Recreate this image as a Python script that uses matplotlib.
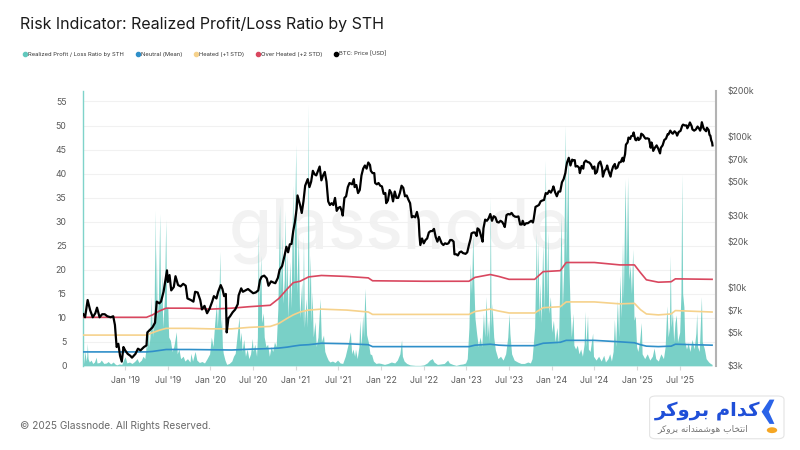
import matplotlib
matplotlib.use("Agg")
import matplotlib.pyplot as plt
from matplotlib.lines import Line2D
from matplotlib.patches import FancyBboxPatch, Polygon, Circle
import numpy as np

plt.rcParams['font.family'] = ['Inter', 'DejaVu Sans']

# --- data (x = decimal year) ---
btc_t = [2018.51, 2018.53, 2018.56, 2018.59, 2018.62, 2018.65, 2018.67, 2018.70, 2018.73, 2018.76,
         2018.79, 2018.83, 2018.86, 2018.88, 2018.90, 2018.92, 2018.94, 2018.96, 2018.98, 2019.00,
         2019.03, 2019.06, 2019.08, 2019.12, 2019.15, 2019.18, 2019.22, 2019.25, 2019.26, 2019.29,
         2019.32, 2019.35, 2019.37, 2019.40, 2019.42, 2019.45, 2019.47, 2019.49, 2019.50, 2019.52,
         2019.54, 2019.57, 2019.59, 2019.62, 2019.65, 2019.68, 2019.71, 2019.73, 2019.77, 2019.80,
         2019.82, 2019.85, 2019.88, 2019.90, 2019.93, 2019.96, 2019.99, 2020.02, 2020.04, 2020.07,
         2020.09, 2020.12, 2020.14, 2020.16, 2020.18, 2020.19, 2020.21, 2020.23, 2020.26, 2020.29,
         2020.32, 2020.33, 2020.36, 2020.38, 2020.41, 2020.44, 2020.47, 2020.50, 2020.53, 2020.56,
         2020.58, 2020.60, 2020.63, 2020.66, 2020.68, 2020.71, 2020.74, 2020.76, 2020.79, 2020.81,
         2020.84, 2020.87, 2020.89, 2020.91, 2020.93, 2020.95, 2020.97, 2020.99, 2021.01, 2021.02,
         2021.05, 2021.07, 2021.09, 2021.11, 2021.14, 2021.16, 2021.18, 2021.20, 2021.22, 2021.24,
         2021.26, 2021.28, 2021.30, 2021.32, 2021.34, 2021.36, 2021.38, 2021.40, 2021.42, 2021.44,
         2021.46, 2021.48, 2021.50, 2021.52, 2021.54, 2021.55, 2021.57, 2021.59, 2021.61, 2021.63,
         2021.66, 2021.68, 2021.69, 2021.71, 2021.73, 2021.75, 2021.77, 2021.79, 2021.81, 2021.83,
         2021.85, 2021.87, 2021.88, 2021.90, 2021.92, 2021.93, 2021.95, 2021.97, 2021.99, 2022.01,
         2022.03, 2022.05, 2022.06, 2022.08, 2022.10, 2022.12, 2022.14, 2022.16, 2022.18, 2022.20,
         2022.22, 2022.24, 2022.26, 2022.28, 2022.30, 2022.32, 2022.34, 2022.36, 2022.38, 2022.40,
         2022.42, 2022.44, 2022.45, 2022.46, 2022.48, 2022.50, 2022.52, 2022.54, 2022.56, 2022.58,
         2022.60, 2022.62, 2022.64, 2022.66, 2022.68, 2022.70, 2022.71, 2022.73, 2022.75, 2022.77,
         2022.79, 2022.81, 2022.83, 2022.85, 2022.86, 2022.88, 2022.90, 2022.92, 2022.94, 2022.96,
         2022.99, 2023.01, 2023.03, 2023.05, 2023.06, 2023.08, 2023.10, 2023.12, 2023.13, 2023.15,
         2023.17, 2023.19, 2023.20, 2023.22, 2023.24, 2023.26, 2023.28, 2023.30, 2023.32, 2023.34,
         2023.36, 2023.38, 2023.40, 2023.42, 2023.44, 2023.45, 2023.47, 2023.49, 2023.51, 2023.53,
         2023.55, 2023.57, 2023.59, 2023.61, 2023.63, 2023.65, 2023.66, 2023.68, 2023.70, 2023.72,
         2023.74, 2023.76, 2023.78, 2023.79, 2023.81, 2023.83, 2023.85, 2023.87, 2023.89, 2023.91,
         2023.93, 2023.95, 2023.97, 2023.99, 2024.01, 2024.02, 2024.04, 2024.06, 2024.08, 2024.10,
         2024.12, 2024.14, 2024.16, 2024.17, 2024.18, 2024.20, 2024.21, 2024.22, 2024.24, 2024.25,
         2024.27, 2024.28, 2024.30, 2024.32, 2024.33, 2024.35, 2024.37, 2024.38, 2024.40, 2024.42,
         2024.44, 2024.46, 2024.48, 2024.50, 2024.51, 2024.53, 2024.55, 2024.57, 2024.59, 2024.60,
         2024.62, 2024.64, 2024.65, 2024.67, 2024.69, 2024.70, 2024.72, 2024.74, 2024.75, 2024.77,
         2024.79, 2024.81, 2024.83, 2024.84, 2024.86, 2024.87, 2024.89, 2024.90, 2024.92, 2024.93,
         2024.95, 2024.96, 2024.98, 2024.99, 2025.01, 2025.02, 2025.04, 2025.05, 2025.07, 2025.09,
         2025.10, 2025.12, 2025.14, 2025.16, 2025.17, 2025.18, 2025.19, 2025.21, 2025.23, 2025.25,
         2025.27, 2025.28, 2025.30, 2025.32, 2025.34, 2025.36, 2025.37, 2025.39, 2025.41, 2025.42,
         2025.44, 2025.46, 2025.47, 2025.49, 2025.51, 2025.53, 2025.54, 2025.56, 2025.58, 2025.59,
         2025.61, 2025.62, 2025.64, 2025.65, 2025.67, 2025.69, 2025.71, 2025.73, 2025.74, 2025.75,
         2025.76, 2025.78, 2025.79, 2025.81, 2025.82, 2025.84, 2025.85, 2025.86, 2025.87, 2025.88,
         2025.885]
btc_k = [6.6, 6.3, 8.2, 7.0, 6.3, 6.7, 7.3, 6.3, 6.6, 6.6,
         6.4, 6.3, 6.4, 5.6, 4.0, 4.2, 3.5, 3.2, 4.0, 3.8,
         3.6, 3.5, 3.4, 3.6, 3.9, 3.8, 4.0, 4.1, 5.0, 5.2,
         5.4, 5.8, 8.0, 7.8, 8.0, 9.3, 11.0, 12.9, 10.8, 12.0,
         9.5, 10.0, 11.8, 10.3, 10.1, 10.5, 10.2, 8.4, 8.2, 8.0,
         9.3, 9.2, 8.2, 7.1, 7.5, 6.7, 7.2, 8.0, 8.7, 8.4,
         9.3, 10.3, 9.7, 8.7, 9.0, 5.0, 6.2, 6.4, 6.8, 7.1,
         7.7, 8.8, 9.8, 9.3, 9.5, 9.7, 9.4, 9.1, 9.2, 9.5,
         11.1, 11.7, 11.9, 11.4, 10.2, 10.9, 10.7, 10.6, 11.5, 13.0,
         13.8, 16.3, 18.5, 17.0, 19.2, 19.3, 23.5, 27.0, 33.0, 40.5,
         35.0, 31.0, 37.0, 47.0, 52.0, 46.0, 50.0, 59.0, 56.0, 55.0,
         58.8, 63.0, 51.0, 55.0, 58.0, 50.0, 37.0, 35.0, 36.0, 35.0,
         39.0, 32.0, 33.5, 34.0, 31.8, 29.8, 39.0, 40.0, 46.0, 49.0,
         48.0, 52.0, 46.0, 47.5, 42.0, 44.0, 55.0, 61.0, 64.0, 61.0,
         67.0, 64.5, 59.0, 57.0, 57.0, 49.0, 48.0, 49.0, 47.0, 46.5,
         41.5, 42.0, 36.0, 37.5, 44.0, 42.0, 37.0, 43.0, 39.0, 39.0,
         42.0, 47.0, 45.5, 40.0, 40.5, 38.0, 36.0, 29.0, 29.5, 29.0,
         31.5, 28.0, 22.0, 19.0, 21.0, 19.5, 20.5, 21.0, 23.0, 23.5,
         23.5, 24.3, 21.5, 20.0, 21.5, 20.2, 19.5, 19.0, 19.5, 19.3,
         19.5, 20.5, 20.5, 20.0, 16.5, 16.5, 16.2, 17.0, 17.2, 16.8,
         16.6, 17.0, 19.0, 21.0, 22.7, 23.0, 23.0, 21.8, 24.5, 24.0,
         22.0, 20.0, 24.5, 28.0, 27.5, 28.5, 30.5, 27.5, 29.5, 29.0,
         27.0, 26.8, 27.5, 27.0, 25.8, 25.0, 30.0, 30.5, 30.3, 31.0,
         29.8, 29.3, 29.2, 29.4, 26.0, 26.0, 27.5, 25.8, 26.5, 26.5,
         27.0, 27.5, 26.8, 28.5, 34.0, 34.5, 35.0, 37.0, 37.5, 37.8,
         42.0, 41.5, 43.5, 42.3, 44.5, 46.5, 42.5, 40.0, 43.0, 43.0,
         49.5, 52.0, 57.0, 62.5, 67.0, 72.0, 68.0, 64.0, 70.0, 69.0,
         69.5, 63.0, 63.5, 62.0, 57.0, 63.5, 61.0, 67.0, 69.0, 67.5,
         67.0, 65.0, 61.0, 63.0, 56.5, 58.0, 66.0, 68.0, 62.0, 54.0,
         59.0, 61.0, 64.0, 58.0, 54.0, 58.0, 63.0, 65.5, 61.0, 62.0,
         67.0, 67.5, 72.0, 68.0, 76.0, 88.0, 91.0, 98.0, 96.0, 100.0,
         101.0, 106.0, 95.0, 94.0, 98.0, 94.5, 97.0, 104.0, 102.0, 98.0,
         96.5, 97.0, 96.0, 84.0, 91.0, 87.0, 80.0, 84.0, 87.0, 82.5,
         77.0, 84.0, 87.0, 94.5, 96.5, 103.5, 103.0, 109.0, 105.0, 104.0,
         108.0, 105.0, 101.0, 107.0, 108.5, 117.5, 119.5, 118.0, 118.0, 113.0,
         119.0, 123.5, 117.0, 111.0, 109.0, 111.0, 116.0, 112.0, 109.0, 114.0,
         124.0, 113.0, 111.0, 108.0, 114.0, 110.0, 102.0, 101.0, 94.0, 91.0,
         87.0]

sth_t = [2018.51, 2018.52, 2018.53, 2018.54, 2018.55, 2018.556, 2018.565, 2018.58, 2018.60, 2018.62,
         2018.64, 2018.66, 2018.67, 2018.70, 2018.72, 2018.75, 2018.78, 2018.80, 2018.83, 2018.86,
         2018.88, 2018.90, 2018.93, 2018.96, 2018.98, 2019.00, 2019.02, 2019.05, 2019.08, 2019.11,
         2019.14, 2019.16, 2019.19, 2019.21, 2019.23, 2019.24, 2019.25, 2019.26, 2019.27, 2019.28,
         2019.29, 2019.30, 2019.31, 2019.32, 2019.33, 2019.34, 2019.35, 2019.357, 2019.365, 2019.375,
         2019.39, 2019.405, 2019.415, 2019.43, 2019.44, 2019.46, 2019.476, 2019.485, 2019.50, 2019.51,
         2019.53, 2019.55, 2019.57, 2019.60, 2019.61, 2019.63, 2019.65, 2019.68, 2019.70, 2019.73,
         2019.76, 2019.77, 2019.79, 2019.82, 2019.84, 2019.87, 2019.90, 2019.93, 2019.96, 2019.99,
         2020.01, 2020.03, 2020.05, 2020.07, 2020.08, 2020.10, 2020.11, 2020.12, 2020.13, 2020.14,
         2020.15, 2020.17, 2020.19, 2020.22, 2020.25, 2020.27, 2020.29, 2020.31, 2020.335, 2020.345,
         2020.36, 2020.37, 2020.39, 2020.41, 2020.43, 2020.45, 2020.47, 2020.49, 2020.50, 2020.52,
         2020.54, 2020.55, 2020.56, 2020.57, 2020.59, 2020.60, 2020.62, 2020.63, 2020.65, 2020.67,
         2020.69, 2020.71, 2020.73, 2020.75, 2020.77, 2020.79, 2020.81, 2020.82, 2020.835, 2020.85,
         2020.865, 2020.875, 2020.885, 2020.895, 2020.91, 2020.93, 2020.945, 2020.965, 2020.975, 2021.00,
         2021.01, 2021.03, 2021.045, 2021.07, 2021.08, 2021.09, 2021.10, 2021.12, 2021.135, 2021.145,
         2021.155, 2021.17, 2021.18, 2021.19, 2021.205, 2021.225, 2021.24, 2021.26, 2021.285, 2021.30,
         2021.325, 2021.34, 2021.36, 2021.38, 2021.40, 2021.43, 2021.46, 2021.49, 2021.52, 2021.55,
         2021.58, 2021.60, 2021.62, 2021.64, 2021.655, 2021.67, 2021.69, 2021.70, 2021.72, 2021.74,
         2021.75, 2021.765, 2021.785, 2021.795, 2021.81, 2021.83, 2021.85, 2021.87, 2021.89, 2021.91,
         2021.94, 2021.97, 2022.00, 2022.04, 2022.08, 2022.12, 2022.16, 2022.19, 2022.22, 2022.24,
         2022.25, 2022.27, 2022.30, 2022.34, 2022.40, 2022.46, 2022.50, 2022.54, 2022.57, 2022.60,
         2022.62, 2022.66, 2022.70, 2022.74, 2022.78, 2022.80, 2022.84, 2022.88, 2022.92, 2022.96,
         2022.99, 2023.01, 2023.03, 2023.045, 2023.06, 2023.075, 2023.085, 2023.10, 2023.12, 2023.14,
         2023.16, 2023.18, 2023.20, 2023.215, 2023.23, 2023.245, 2023.26, 2023.27, 2023.28, 2023.29,
         2023.30, 2023.32, 2023.34, 2023.37, 2023.40, 2023.43, 2023.46, 2023.485, 2023.50, 2023.51,
         2023.53, 2023.56, 2023.60, 2023.64, 2023.68, 2023.72, 2023.75, 2023.77, 2023.80, 2023.82,
         2023.83, 2023.84, 2023.85, 2023.86, 2023.875, 2023.895, 2023.91, 2023.925, 2023.94, 2023.955,
         2023.965, 2023.985, 2024.00, 2024.02, 2024.04, 2024.06, 2024.08, 2024.095, 2024.11, 2024.125,
         2024.14, 2024.16, 2024.17, 2024.19, 2024.20, 2024.215, 2024.23, 2024.25, 2024.26, 2024.28,
         2024.30, 2024.32, 2024.34, 2024.36, 2024.38, 2024.39, 2024.40, 2024.42, 2024.43, 2024.45,
         2024.48, 2024.49, 2024.52, 2024.55, 2024.58, 2024.61, 2024.63, 2024.66, 2024.68, 2024.70,
         2024.72, 2024.735, 2024.75, 2024.77, 2024.785, 2024.80, 2024.815, 2024.83, 2024.84, 2024.86,
         2024.875, 2024.89, 2024.905, 2024.92, 2024.935, 2024.95, 2024.965, 2024.98, 2024.995, 2025.01,
         2025.03, 2025.05, 2025.06, 2025.09, 2025.12, 2025.15, 2025.18, 2025.20, 2025.22, 2025.25,
         2025.28, 2025.31, 2025.33, 2025.35, 2025.365, 2025.38, 2025.39, 2025.40, 2025.415, 2025.43,
         2025.445, 2025.46, 2025.475, 2025.50, 2025.515, 2025.525, 2025.535, 2025.55, 2025.56, 2025.58,
         2025.60, 2025.62, 2025.645, 2025.67, 2025.69, 2025.70, 2025.71, 2025.73, 2025.755, 2025.765,
         2025.79, 2025.81, 2025.84, 2025.86, 2025.88]
sth_ratio = [0.3, 1.5, 3.2, 1.0, 2.0, 4.7, 1.5, 0.8, 1.2, 0.5,
             0.8, 1.8, 0.6, 0.7, 1.2, 0.5, 0.6, 0.9, 0.4, 0.8,
             0.4, 0.2, 0.4, 0.3, 1.2, 1.9, 0.6, 0.8, 0.5, 0.9,
             1.5, 0.7, 1.2, 2.0, 1.5, 3.0, 5.5, 3.5, 8.1, 4.0,
             6.0, 14.4, 7.0, 11.0, 6.0, 12.0, 32.4, 12.0, 24.8, 10.0,
             14.0, 31.7, 12.0, 19.2, 8.0, 14.0, 30.5, 12.0, 12.3, 6.0,
             5.3, 3.0, 4.0, 7.1, 2.5, 3.5, 1.5, 2.0, 1.0, 1.5,
             0.8, 2.6, 1.0, 3.0, 1.2, 0.7, 0.9, 0.6, 1.5, 2.5,
             6.0, 4.0, 9.0, 13.0, 8.0, 15.0, 23.8, 8.0, 10.0, 4.0,
             2.6, 1.2, 0.3, 0.5, 1.0, 2.0, 2.6, 6.0, 10.2, 5.0,
             7.0, 3.0, 5.5, 2.0, 3.5, 1.5, 2.5, 5.7, 3.0, 4.5,
             2.0, 6.0, 28.3, 12.0, 23.0, 9.0, 11.0, 6.0, 4.0, 4.5,
             2.0, 4.0, 3.0, 5.0, 4.0, 12.0, 33.5, 15.0, 27.0, 13.0,
             18.0, 32.4, 14.0, 23.8, 10.0, 21.7, 12.0, 37.6, 16.0, 46.0,
             15.0, 27.0, 10.0, 17.5, 9.0, 27.0, 8.0, 14.0, 8.0, 54.5,
             12.0, 23.0, 9.0, 15.4, 6.0, 9.2, 4.0, 6.0, 14.0, 5.0,
             6.4, 3.0, 2.0, 1.2, 0.8, 1.0, 0.7, 1.2, 0.6, 0.5,
             2.0, 3.5, 5.0, 7.1, 2.5, 3.5, 2.0, 3.5, 1.5, 4.0,
             9.5, 4.0, 10.6, 6.0, 16.1, 6.5, 5.0, 2.5, 2.3, 1.0,
             0.5, 0.6, 0.5, 0.3, 0.5, 0.8, 0.6, 1.2, 2.5, 5.4,
             2.0, 1.0, 0.5, 0.2, 0.1, 0.1, 0.2, 0.6, 1.2, 1.5,
             0.8, 0.3, 0.4, 0.5, 1.2, 0.6, 0.3, 0.1, 0.3, 0.4,
             0.6, 1.5, 8.0, 21.3, 15.0, 27.6, 18.5, 10.0, 6.7, 4.0,
             6.0, 4.0, 10.9, 6.0, 14.4, 6.0, 9.5, 5.0, 35.2, 8.0,
             13.0, 6.0, 3.3, 1.5, 2.0, 1.2, 2.5, 6.0, 10.9, 6.7,
             2.5, 1.2, 0.8, 0.5, 0.5, 0.8, 0.6, 1.5, 8.0, 27.6,
             14.0, 26.2, 10.0, 17.2, 9.0, 25.5, 11.0, 42.8, 14.0, 28.0,
             10.9, 14.4, 7.0, 9.5, 5.0, 8.0, 4.5, 18.0, 31.2, 12.0,
             20.0, 50.1, 22.0, 45.3, 22.7, 12.0, 6.0, 10.9, 4.3, 3.5,
             4.3, 2.5, 3.5, 2.0, 4.5, 11.4, 4.0, 10.5, 3.5, 3.0,
             6.8, 2.0, 1.2, 2.0, 1.0, 2.2, 0.8, 1.5, 2.5, 1.0,
             3.0, 9.7, 4.0, 13.7, 6.0, 18.9, 10.0, 25.8, 14.0, 38.9,
             20.0, 39.4, 18.0, 21.0, 15.0, 24.3, 9.5, 10.4, 4.0, 3.0,
             5.0, 9.0, 2.5, 1.5, 2.5, 1.2, 2.0, 3.7, 1.5, 1.0,
             2.5, 1.5, 4.0, 12.5, 6.0, 8.0, 23.0, 8.0, 11.4, 5.0,
             9.0, 10.6, 5.0, 7.0, 15.0, 39.9, 15.0, 12.2, 5.0, 3.5,
             4.8, 3.0, 5.5, 3.5, 6.8, 11.0, 4.0, 3.0, 14.4, 5.0,
             3.5, 1.5, 0.8, 0.5, 0.3]

band_t = [2018.51, 2019.25, 2019.32, 2019.40, 2019.48, 2019.75, 2020.0, 2020.25, 2020.45, 2020.70,
          2020.80, 2020.90, 2020.97, 2021.05, 2021.15, 2021.30, 2021.60, 2021.85, 2021.90, 2022.50,
          2023.03, 2023.10, 2023.28, 2023.38, 2023.50, 2023.80, 2023.90, 2024.10, 2024.17, 2024.50,
          2024.80, 2024.97, 2025.04, 2025.11, 2025.25, 2025.40, 2025.45, 2025.88]
over_heated = [10.1, 10.1, 10.6, 11.4, 12.0, 12.0, 11.8, 12.0, 12.3, 12.6,
               14.0, 16.0, 17.3, 17.6, 18.5, 18.8, 18.6, 18.3, 17.7, 17.6,
               17.6, 18.4, 19.0, 18.6, 18.0, 18.0, 19.6, 19.8, 21.5, 21.5,
               21.0, 21.0, 19.4, 17.9, 17.4, 17.5, 18.1, 18.0]
heated = [6.4, 6.4, 6.9, 7.4, 7.8, 7.8, 7.7, 7.7, 8.0, 8.2,
          8.8, 9.9, 10.6, 11.2, 11.6, 11.8, 11.6, 11.2, 10.7, 10.7,
          10.7, 11.3, 11.8, 11.4, 11.0, 11.0, 12.1, 12.3, 13.3, 13.3,
          12.9, 13.0, 11.7, 10.8, 10.6, 10.8, 11.5, 11.2]
neutral = [2.9, 2.9, 3.0, 3.2, 3.4, 3.4, 3.35, 3.3, 3.45, 3.6,
           3.7, 3.9, 4.1, 4.3, 4.4, 4.7, 4.6, 4.4, 4.0, 4.0,
           4.0, 4.3, 4.5, 4.3, 4.2, 4.2, 4.7, 4.9, 5.3, 5.3,
           5.0, 4.8, 4.4, 4.1, 4.0, 4.1, 4.5, 4.3]

x_ticks = [2019.0, 2019.5, 2020.0, 2020.5, 2021.0, 2021.5, 2022.0, 2022.5,
           2023.0, 2023.5, 2024.0, 2024.5, 2025.0, 2025.5]
x_labels = ["Jan '19", "Jul '19", "Jan '20", "Jul '20", "Jan '21", "Jul '21", "Jan '22", "Jul '22",
            "Jan '23", "Jul '23", "Jan '24", "Jul '24", "Jan '25", "Jul '25"]
price_ticks = [3000, 5000, 7000, 10000, 20000, 30000, 50000, 70000, 100000, 200000]
price_labels = ['$3k', '$5k', '$7k', '$10k', '$20k', '$30k', '$50k', '$70k', '$100k', '$200k']

c_ratio = '#62c8bd'
c_neutral = '#2f8fc9'
c_heated = '#f6d28c'
c_over = '#d9475f'
grey = '#5a5a5a'

fig = plt.figure(figsize=(8, 4.5), dpi=100)
ax = fig.add_axes([0.104, 0.187, 0.791, 0.611])

ax.text(0.5, 0.49, 'glassnode', transform=ax.transAxes, ha='center', va='center',
        fontsize=50, color='#f2f2f2', fontweight='medium', zorder=0)

ax.fill_between(sth_t, 0, sth_ratio, color=c_ratio, alpha=0.85, lw=0, zorder=2)
ax.plot(band_t, neutral, color=c_neutral, lw=1.2, zorder=3)
ax.plot(band_t, heated, color=c_heated, lw=1.2, zorder=3)
ax.plot(band_t, over_heated, color=c_over, lw=1.2, zorder=3)

ax.set_xlim(2018.508, 2025.926)
ax.set_ylim(0, 57.2)
ax.set_yticks(range(0, 56, 5))
ax.grid(axis='y', color='#f1f1f1', lw=0.8, zorder=0)
ax.set_axisbelow(True)
ax.set_xticks(x_ticks)
ax.set_xticklabels(x_labels)
ax.tick_params(axis='x', length=3, color='#d8d8d8', labelsize=6.3, labelcolor=grey, pad=4)
ax.tick_params(axis='y', length=0, labelsize=6.3, labelcolor=grey, pad=12)
for s in ['top', 'right', 'bottom']:
    ax.spines[s].set_visible(False)
ax.spines['left'].set_color('#7fd3ca')
ax.spines['left'].set_linewidth(1.0)

ax2 = ax.twinx()
ax2.plot(btc_t, [p * 1000 for p in btc_k], color='black', lw=1.6, zorder=4)
ax2.set_yscale('log')
ax2.set_ylim(3000, 200000)
ax2.set_yticks(price_ticks)
ax2.set_yticklabels(price_labels)
ax2.minorticks_off()
ax2.tick_params(axis='y', length=0, labelsize=6.3, labelcolor=grey, pad=8)
for s in ['top', 'left', 'bottom']:
    ax2.spines[s].set_visible(False)
ax2.spines['right'].set_color('#b3b3b3')
ax2.spines['right'].set_linewidth(1.5)

fig.text(0.025, 0.945, 'Risk Indicator: Realized Profit/Loss Ratio by STH',
         fontsize=11.5, color='#1a1a1a', va='center', ha='left')

handles = [Line2D([], [], marker='o', ls='none', color=c, markersize=3.0)
           for c in [c_ratio, c_neutral, c_heated, c_over, 'black']]
names = ['Realized Profit / Loss Ratio by STH', 'Neutral (Mean)', 'Heated (+1 STD)',
         'Over Heated (+2 STD)', 'BTC: Price [USD]']
fig.legend(handles, names, loc='center left', bbox_to_anchor=(0.022, 0.88), ncol=5,
           frameon=False, fontsize=4.2, handletextpad=0.05, columnspacing=1.9,
           handlelength=0.9, labelcolor='#333333')

fig.text(0.025, 0.053, '\u00a9 2025 Glassnode. All Rights Reserved.', fontsize=7.3,
         color='#6a6a6a', va='center', ha='left')

# broker badge, bottom right (Persian text in presentation forms, visual order)
badge = FancyBboxPatch((0.812, 0.025), 0.168, 0.095, transform=fig.transFigure,
                       boxstyle='round,pad=0,rounding_size=0.008', fc='white',
                       ec='#e4e4e4', lw=0.8)
fig.patches.append(badge)
brand = '\uFEAE\uFB90\uFEED\uFEAE\uFE91 \uFEE1\uFE8D\uFEAA\uFB90'
tagline = ('\uFEAE\uFB90\uFEED\uFEAE\uFE91 '
           '\uFEEA\uFEE7\uFE8D\uFEAA\uFEE8\uFEE4\uFEB7\uFEEE\uFEEB '
           '\uFE8F\uFE8E\uFEA8\uFE98\uFEE7\uFE8D')
fig.text(0.884, 0.087, brand, fontsize=14, color='#1f4fd8', fontweight='bold',
         ha='center', va='center', family=['DejaVu Sans'])
fig.text(0.879, 0.048, tagline, fontsize=6.5, color='#777777',
         ha='center', va='center', family=['DejaVu Sans'])
chevron = Polygon([[0.962, 0.112], [0.952, 0.085], [0.962, 0.058], [0.968, 0.058],
                   [0.961, 0.085], [0.968, 0.112]], closed=True, transform=fig.transFigure,
                  fc='#2a63e8', ec='none')
fig.patches.append(chevron)
dot = Circle((0.965, 0.044), 0.0065, transform=fig.transFigure, fc='#f5a623', ec='none')
fig.patches.append(dot)

fig.savefig('out.png', dpi=100)
